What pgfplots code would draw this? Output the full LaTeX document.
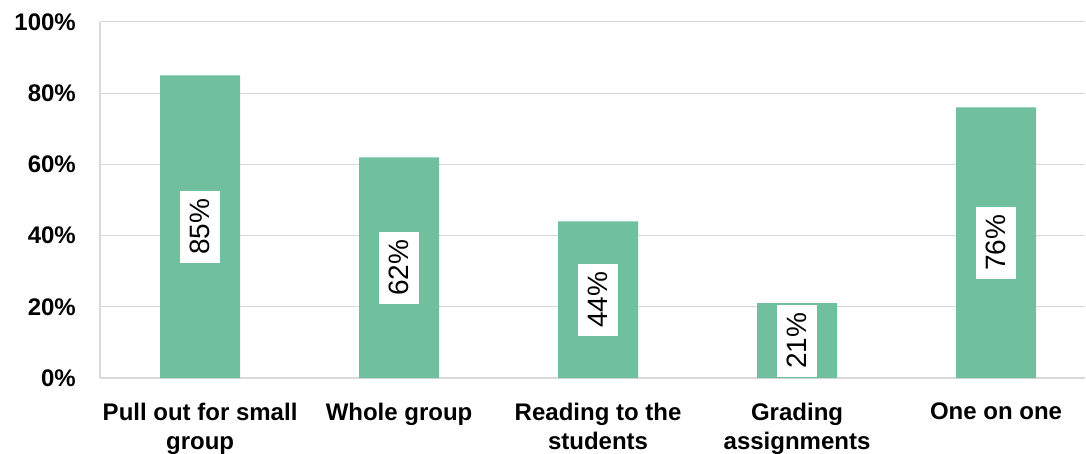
\documentclass[border=0pt]{standalone}
\usepackage{pgfplots}
\pgfplotsset{compat=1.18}
\usepackage{pgfplotstable}
\usepackage{fontspec}
\setmainfont{Liberation Sans}
\definecolor{bargreen}{RGB}{112,191,159}
\definecolor{gridgray}{RGB}{217,217,217}

% share of responses per task (percent)
\pgfplotstableread{
x v
0 85
1 62
2 44
3 21
4 76
}\tasks

\begin{document}
\begin{tikzpicture}
\begin{axis}[
  scale only axis, width=985pt, height=356pt,
  xmin=-0.503, xmax=4.447, ymin=0, ymax=100,
  axis lines*=left,
  axis line style={gridgray, line width=1.2pt},
  ymajorgrids, grid style={gridgray, line width=1pt},
  ytick={0,20,...,100},
  yticklabels={0\%,20\%,40\%,60\%,80\%,100\%},
  xtick=data,
  xticklabels={{Pull out for small\\group},{Whole group},{Reading to the\\students},{Grading\\assignments},{One on one}},
  major tick length=0pt,
  /pgf/number format/assume math mode=true,
  tick label style={font=\fontsize{24}{29}\selectfont\bfseries, inner sep=0pt},
  xticklabel style={align=center, yshift=-25pt},
  yticklabel style={xshift=-24pt},
  clip=false,
]
\addplot[ybar, bar width=80pt, fill=bargreen, draw=none] table[x=x, y=v]{\tasks};
\addplot[draw=none, mark=none,
  nodes near coords={\pgfmathprintnumber{\pgfplotspointmeta}\%},
  point meta=explicit,
  nodes near coords style={anchor=center, rotate=90, fill=white, text=black,
    font=\fontsize{28}{30}\selectfont, inner xsep=8pt, inner ysep=10pt}]
  table[x=x, y expr=\thisrow{v}/2, meta=v]{\tasks};
\end{axis}
\pgfresetboundingbox
\path[use as bounding box] (current axis.south west) ++(-100pt,-75pt) rectangle ([shift={(1pt,22pt)}]current axis.north east);
\end{tikzpicture}
\end{document}
